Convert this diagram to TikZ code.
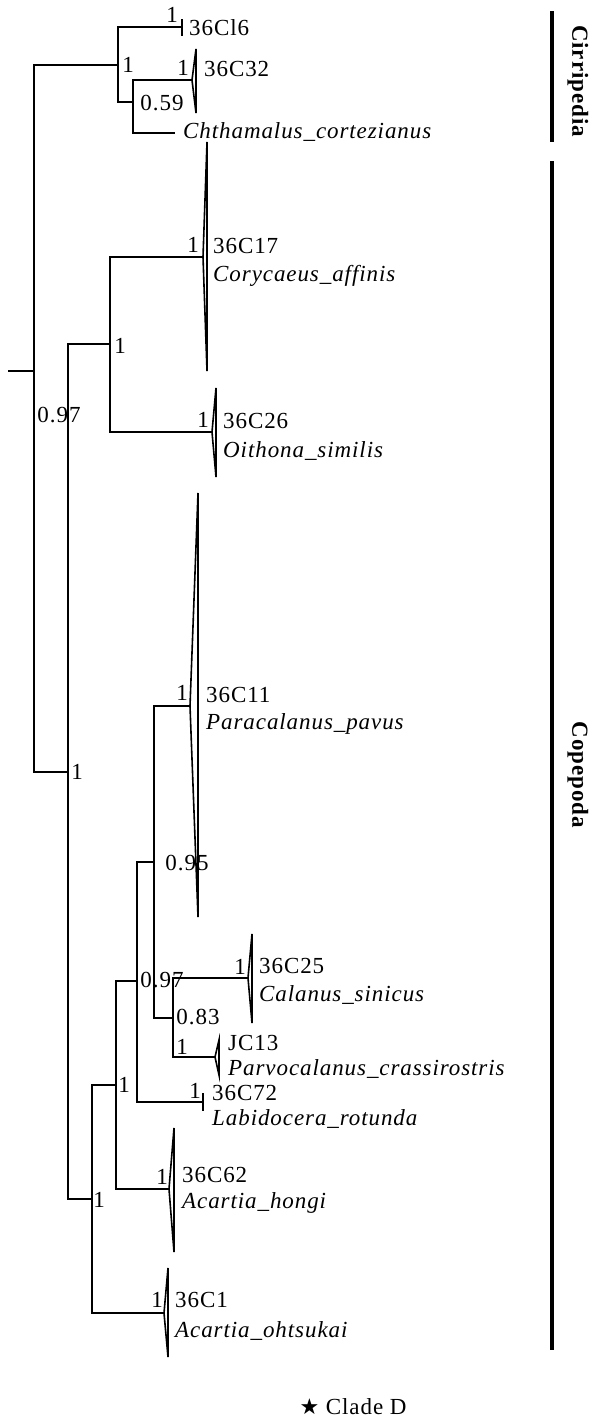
\documentclass[tikz,border=0pt]{standalone}
\usepackage{fontspec}
\setmainfont{Liberation Serif}[LetterSpace=4]
\newfontfamily\starfont{DejaVu Sans}

\tikzset{
  branch/.style={black, line width=2pt},
  collapsedtri/.style={black, line width=1.6pt, line join=miter},
  groupbar/.style={black, line width=3.6pt},
  supp/.style={anchor=center},
  taxon/.style={anchor=base west},
  species/.style={anchor=base west, font=\fontsize{23}{27}\selectfont\itshape},
  grouplabel/.style={rotate=-90, font=\fontsize{23}{27}\selectfont\bfseries}
}
% collapsed clade: apex, base x, base top, base bottom
\newcommand\collapsed[4]{\draw[collapsedtri] (#1) -- (#2,#3) -- (#2,#4) -- cycle;}

\begin{document}
\begin{tikzpicture}[x=1pt, y=-1pt,
  every node/.style={inner sep=0pt, font=\fontsize{23}{27}\selectfont}]
  \useasboundingbox (0,0) rectangle (591,1419);

  % tree nodes
  \coordinate (stub) at (8,371);
  \coordinate (root) at (34,371);
  \coordinate (cirr) at (118,65);
  \coordinate (cope) at (68,772);
  \coordinate (t36C16) at (182,27);
  \coordinate (chth) at (133,102);
  \coordinate (a36C32) at (192,80);
  \coordinate (tchth) at (175,133);
  \coordinate (cyc) at (110,344);
  \coordinate (a36C17) at (203,257);
  \coordinate (a36C26) at (212,432);
  \coordinate (acar) at (92,1199);
  \coordinate (labi) at (116,1085);
  \coordinate (cala) at (137,981);
  \coordinate (para) at (154,862);
  \coordinate (a36C11) at (190,706);
  \coordinate (parvo) at (173,1018);
  \coordinate (a36C25) at (248,978);
  \coordinate (aJC13) at (215,1057);
  \coordinate (t36C72) at (203,1102);
  \coordinate (a36C62) at (169,1189);
  \coordinate (a36C1) at (164,1313);

  % branches
  \draw[branch] (stub) -- (root);
  \draw[branch] (cirr) -| (root) |- (cope);
  \draw[branch] (t36C16) -| (cirr) |- (chth);
  \draw[branch] (a36C32) -| (chth) |- (tchth);
  \draw[branch] (cyc) -| (cope) |- (acar);
  \draw[branch] (a36C17) -| (cyc) |- (a36C26);
  \draw[branch] (labi) -| (acar) |- (a36C1);
  \draw[branch] (cala) -| (labi) |- (a36C62);
  \draw[branch] (para) -| (cala) |- (t36C72);
  \draw[branch] (a36C11) -| (para) |- (parvo);
  \draw[branch] (a36C25) -| (parvo) |- (aJC13);
  \draw[branch] ([yshift=8pt]t36C16) -- ([yshift=-9pt]t36C16);
  \draw[branch] ([yshift=9pt]t36C72) -- ([yshift=-9pt]t36C72);

  % collapsed clades
  \collapsed{a36C32}{196}{49}{113}
  \collapsed{a36C17}{207}{142}{371}
  \collapsed{a36C26}{216}{388}{477}
  \collapsed{a36C11}{198}{493}{917}
  \collapsed{a36C25}{252}{934}{1023}
  \collapsed{aJC13}{219}{1040}{1075}
  \collapsed{a36C62}{174}{1128}{1252}
  \collapsed{a36C1}{168}{1268}{1357}

  % support values
  \node[supp] (s-cirr) at (128,65) {1};
  \node[supp] (s-36C16) at (172,15) {1};
  \node[supp] (s-36C32) at (183,68) {1};
  \node[supp] (s-chth) at (162,103) {0.59};
  \node[supp] (s-root) at (59,415) {0.97};
  \node[supp] (s-cope) at (77,772) {1};
  \node[supp] (s-cyc) at (120,346) {1};
  \node[supp] (s-36C17) at (193,245) {1};
  \node[supp] (s-36C26) at (203,420) {1};
  \node[supp] (s-acar) at (99,1200) {1};
  \node[supp] (s-labi) at (124,1085) {1};
  \node[supp] (s-cala) at (162,980) {0.97};
  \node[supp] (s-para) at (187,863) {0.95};
  \node[supp] (s-36C11) at (182,693) {1};
  \node[supp] (s-parvo) at (198,1017) {0.83};
  \node[supp] (s-36C25) at (240,967) {1};
  \node[supp] (s-JC13) at (182,1047) {1};
  \node[supp] (s-36C72) at (195,1091) {1};
  \node[supp] (s-36C62) at (162,1177) {1};
  \node[supp] (s-36C1) at (157,1300) {1};

  % tip labels
  \node[taxon] (l-36C16) at (189,35) {36Cl6};
  \node[taxon] (l-36C32) at (204,76) {36C32};
  \node[species] (l-chth) at (183,138) {Chthamalus\_cortezianus};
  \node[taxon] (l-36C17) at (213,253) {36C17};
  \node[species] (l-cory) at (213,281) {Corycaeus\_affinis};
  \node[taxon] (l-36C26) at (223,428) {36C26};
  \node[species] (l-oith) at (223,457) {Oithona\_similis};
  \node[taxon] (l-36C11) at (206,702) {36C11};
  \node[species] (l-para) at (206,729) {Paracalanus\_pavus};
  \node[taxon] (l-36C25) at (259,973) {36C25};
  \node[species] (l-cala) at (259,1001) {Calanus\_sinicus};
  \node[taxon] (l-JC13) at (228,1050) {JC13};
  \node[species] (l-parvo) at (228,1075) {Parvocalanus\_crassirostris};
  \node[taxon] (l-36C72) at (212,1100) {36C72};
  \node[species] (l-labi) at (212,1125) {Labidocera\_rotunda};
  \node[taxon] (l-36C62) at (182,1182) {36C62};
  \node[species] (l-hong) at (182,1208) {Acartia\_hongi};
  \node[taxon] (l-36C1) at (175,1307) {36C1};
  \node[species] (l-ohts) at (175,1337) {Acartia\_ohtsukai};

  % group bars
  \coordinate (cirr-top) at (552,11);
  \coordinate (cirr-bot) at (552,142);
  \coordinate (cope-top) at (552,161);
  \coordinate (cope-bot) at (552,1350);
  \draw[groupbar] (cirr-top) -- (cirr-bot);
  \draw[groupbar] (cope-top) -- (cope-bot);
  \node[grouplabel] (g-cirr) at (578,81) {Cirripedia};
  \node[grouplabel] (g-cope) at (578,775) {Copepoda};

  \node (legend) at (353,1407) {{\starfont\fontsize{22}{24}\selectfont ★} Clade D};
\end{tikzpicture}
\end{document}
